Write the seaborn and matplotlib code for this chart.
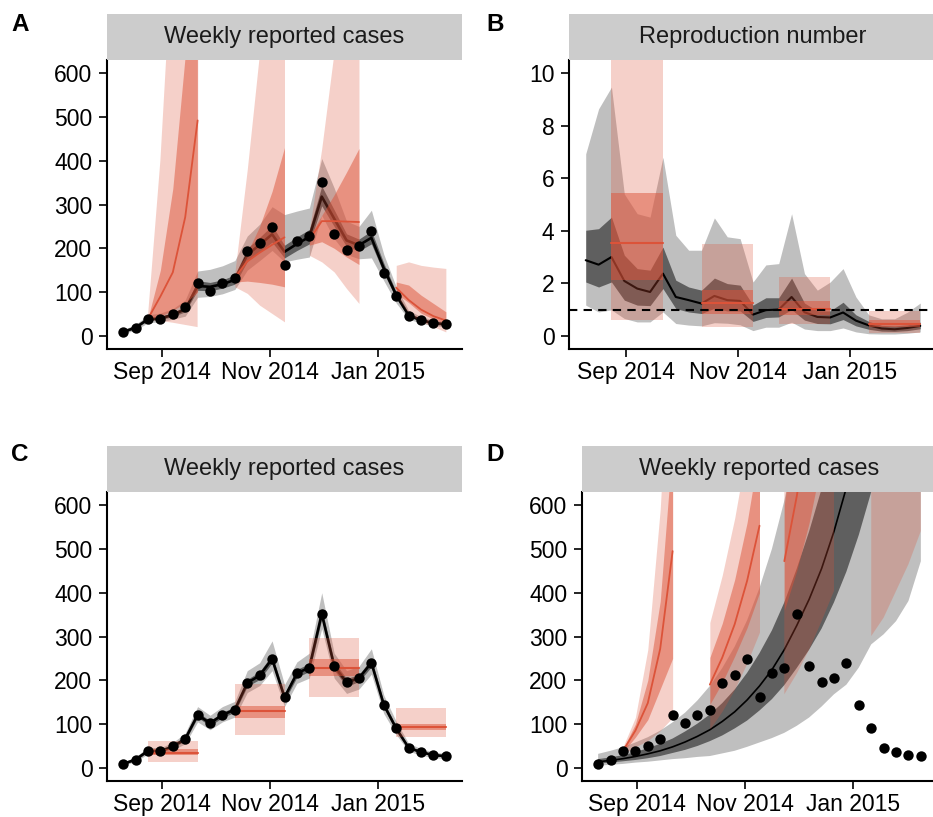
import numpy as np
import pandas as pd
import matplotlib
matplotlib.use("Agg")
import matplotlib.pyplot as plt
import matplotlib.dates as mdates
import matplotlib.ticker as mticker
from matplotlib.patches import Rectangle
import seaborn as sns

# ---------------- data ----------------
week_start = "2014-08-10"
n_weeks = 27
cases = [9, 19, 39, 38, 49, 66, 121, 102, 121, 133, 194, 211, 249, 161, 216, 229,
         352, 233, 195, 205, 240, 144, 90, 46, 36, 29, 27]

# forecast windows (week index, 0-based, inclusive)
win_start = [2, 9, 15, 22]
win_len = 5

# Panel A: fitted weekly cases (median, 50% and 95% bands)
A_fit = [9, 19, 38, 40, 48, 61, 114, 112, 118, 128, 185, 208, 232, 192, 210, 226,
         318, 268, 218, 207, 224, 154, 93, 47, 36, 29, 27]
A_lo50 = [7, 17, 35, 37, 44, 55, 104, 103, 109, 118, 170, 192, 214, 178, 195, 210,
          297, 250, 204, 194, 210, 143, 86, 43, 33, 26, 24]
A_hi50 = [11, 21, 41, 44, 53, 68, 126, 122, 128, 139, 200, 225, 252, 207, 226, 243,
          342, 288, 233, 221, 240, 166, 100, 52, 40, 32, 30]
A_lo95 = [5, 13, 30, 32, 38, 45, 88, 90, 96, 106, 150, 172, 195, 169, 175, 180,
          275, 222, 186, 176, 178, 126, 75, 38, 29, 23, 21]
A_hi95 = [14, 26, 48, 52, 62, 82, 148, 152, 160, 172, 228, 255, 295, 277, 285, 292,
          405, 338, 262, 250, 287, 186, 112, 58, 44, 36, 33]

# Panel A forecasts (one row per forecast window)
A_fc_med = [[39, 90, 145, 271, 492], [133, 170, 190, 208, 225],
            [219, 262, 262, 261, 260], [110, 82, 60, 45, 35]]
A_fc_lo50 = [[38, 45, 58, 75, 100], [123, 125, 122, 118, 112],
             [207, 215, 200, 180, 163], [97, 76, 52, 38, 28]]
A_fc_hi50 = [[40, 150, 336, 640, 1000], [142, 190, 250, 330, 430],
             [228, 275, 322, 374, 428], [123, 116, 93, 74, 55]]
A_fc_lo95 = [[36, 34, 30, 25, 20], [112, 97, 70, 51, 32],
             [184, 169, 146, 108, 74], [93, 51, 32, 21, 9]]
A_fc_hi95 = [[45, 400, 900, 1500, 2200], [145, 380, 650, 1000, 1300],
             [240, 428, 650, 900, 1200], [161, 169, 161, 157, 154]]

# Panel B: reproduction number
R_med = [2.88, 2.71, 3.0, 2.09, 1.8, 1.67, 2.37, 1.48, 1.36, 1.23, 1.52, 1.36, 1.33, 0.81,
         0.98, 1.0, 1.48, 0.9, 0.72, 0.7, 0.89, 0.58, 0.4, 0.28, 0.25, 0.3, 0.38]
R_lo50 = [2.05, 1.86, 2.05, 1.36, 1.17, 1.15, 1.8, 1.04, 0.91, 0.85, 1.05, 0.95, 0.95, 0.55,
          0.7, 0.72, 1.0, 0.6, 0.47, 0.46, 0.62, 0.38, 0.25, 0.18, 0.17, 0.2, 0.27]
R_hi50 = [4.02, 4.08, 4.52, 3.07, 2.56, 2.5, 3.38, 2.12, 1.86, 1.74, 2.2, 1.99, 1.93, 1.17,
          1.45, 1.45, 2.2, 1.25, 0.95, 0.95, 1.28, 0.8, 0.55, 0.4, 0.38, 0.42, 0.52]
R_lo95 = [1.17, 0.91, 0.99, 0.66, 0.53, 0.53, 0.91, 0.47, 0.41, 0.38, 0.5, 0.48, 0.42, 0.2,
          0.33, 0.33, 0.52, 0.26, 0.2, 0.2, 0.3, 0.15, 0.08, 0.07, 0.07, 0.1, 0.15]
R_hi95 = [6.93, 8.64, 9.47, 5.4, 4.65, 4.52, 6.8, 3.83, 3.26, 3.26, 4.49, 3.77, 3.7, 2.05,
          2.7, 2.75, 4.65, 2.37, 1.74, 2.05, 2.56, 1.48, 0.8, 0.65, 0.65, 0.9, 1.25]
R_box_med = [3.55, 1.26, 1.01, 0.44]
R_box_lo50 = [2.12, 0.85, 0.79, 0.32]
R_box_hi50 = [5.42, 1.74, 1.33, 0.60]
R_box_lo95 = [0.61, 0.34, 0.44, 0.11]
R_box_hi95 = [11.0, 3.49, 2.25, 0.95]

# Panel C: fit through data with constant forecasts
C_lo95 = [6, 14, 32, 31, 41, 55, 105, 87, 105, 116, 172, 188, 222, 140, 193, 205,
          318, 205, 170, 180, 214, 124, 76, 38, 29, 23, 21]
C_hi95 = [13, 25, 47, 46, 58, 79, 140, 120, 140, 152, 222, 240, 290, 190, 242, 262,
          400, 262, 222, 232, 272, 166, 106, 56, 44, 36, 33]
C_lo50 = [8, 17, 36, 35, 46, 62, 115, 96, 115, 127, 186, 202, 240, 153, 207, 220,
          340, 223, 186, 197, 231, 137, 85, 43, 34, 27, 25]
C_hi50 = [10, 21, 42, 41, 52, 70, 127, 108, 127, 139, 202, 220, 258, 169, 225, 238,
          364, 243, 204, 213, 249, 151, 95, 49, 38, 31, 29]
C_box_med = [35, 130, 227, 94]
C_box_lo50 = [29, 115, 210, 86]
C_box_hi50 = [43, 141, 248, 101]
C_box_lo95 = [13, 75, 162, 71]
C_box_hi95 = [62, 191, 297, 136]

# Panel D: exponential-growth model
D_fit = [14, 17, 21, 26, 32, 39, 48, 59, 72, 87, 106, 128, 155, 187, 224, 270,
         325, 385, 455, 540, 640, 760, 900, 1070, 1270, 1500, 1780]
D_lo50 = [10, 12, 15, 18, 22, 27, 34, 41, 50, 61, 74, 90, 108, 131, 157, 189,
          228, 270, 318, 378, 448, 532, 630, 750, 890, 1050, 1250]
D_hi50 = [20, 24, 29, 36, 45, 55, 67, 83, 101, 122, 148, 179, 217, 262, 314, 378,
          455, 540, 637, 756, 896, 1064, 1260, 1500, 1780, 2100, 2490]
D_lo95 = [5, 7, 9, 12, 14, 17, 20, 22, 25, 27, 33, 39, 48, 58, 68, 80,
          96, 115, 140, 168, 190, 229, 282, 305, 335, 381, 472]
D_hi95 = [32, 39, 47, 58, 70, 85, 104, 126, 154, 187, 228, 277, 337, 411, 500, 610,
          740, 900, 1100, 1340, 1630, 1980, 2400, 2900, 3500, 4200, 5000]
D_fc_med = [[39, 85, 148, 272, 495], [190, 252, 328, 427, 553],
            [472, 620, 800, 1030, 1320], [1100, 1300, 1500, 1800, 2100]]
D_fc_lo50 = [[36, 70, 110, 180, 250], [145, 195, 255, 320, 400],
             [360, 450, 560, 700, 850], [700, 800, 950, 1100, 1300]]
D_fc_hi50 = [[43, 100, 200, 380, 740], [252, 330, 430, 560, 730],
             [600, 820, 1100, 1450, 1900], [1600, 1900, 2300, 2700, 3200]]
D_fc_lo95 = [[32, 48, 62, 85, 115], [89, 130, 180, 240, 310],
             [168, 215, 270, 335, 404], [301, 343, 404, 465, 541]]
D_fc_hi95 = [[48, 115, 270, 590, 1100], [332, 440, 570, 730, 950],
             [1000, 1400, 1900, 2500, 3300], [3000, 3500, 4200, 5000, 6000]]

strip_titles = ["Weekly reported cases", "Reproduction number",
                "Weekly reported cases", "Weekly reported cases"]
panel_letters = ["A", "B", "C", "D"]
tick_dates = ["2014-09-01", "2014-11-01", "2015-01-01"]

# ---------------- style ----------------
sns.set_style("ticks")
plt.rcParams["font.family"] = ["Liberation Sans", "DejaVu Sans"]
plt.rcParams["axes.linewidth"] = 1.5

RED = "#DC5339"
GREY_A = 0.25
GREY_B = 0.5
RED_A = 0.27
RED_B = 0.5

dates = pd.date_range(week_start, periods=n_weeks, freq="7D")
W, H = 933, 817
fig = plt.figure(figsize=(W / 100, H / 100), dpi=100)


def make_axes(l, t, r, b):
    return fig.add_axes([l / W, 1 - b / H, (r - l) / W, (b - t) / H])


def strip(l, r, t, b, title):
    fig.patches.append(Rectangle((l / W, 1 - b / H), (r - l) / W, (b - t) / H,
                                 transform=fig.transFigure, facecolor="#CCCCCC",
                                 edgecolor="none", zorder=0))
    fig.text((l + r) / 2 / W, 1 - (t + b) / 2 / H, title, ha="center", va="center",
             fontsize=17, color="#1A1A1A")


def style_axes(ax, ylim, yticks):
    span = dates[-1] - dates[0]
    pad = span * 0.05
    ax.set_xlim(dates[0] - pad, dates[-1] + pad)
    ax.set_ylim(*ylim)
    ax.set_yticks(yticks)
    ax.xaxis.set_major_locator(
        mticker.FixedLocator(mdates.date2num(pd.to_datetime(tick_dates))))
    ax.xaxis.set_major_formatter(mdates.DateFormatter("%b %Y"))
    for s in ["top", "right"]:
        ax.spines[s].set_visible(False)
    ax.spines["left"].set_color("black")
    ax.spines["bottom"].set_color("black")
    ax.tick_params(axis="both", length=5.5, width=1.2, color="black",
                   labelsize=16.5, labelcolor="black")
    ax.tick_params(axis="y", pad=5)
    ax.tick_params(axis="x", pad=3)
    ax.set_xlabel("")
    ax.set_ylabel("")


def grey_bands(ax, lo95, hi95, lo50, hi50):
    ax.fill_between(dates, lo95, hi95, color="black", alpha=GREY_A, lw=0, zorder=1)
    ax.fill_between(dates, lo50, hi50, color="black", alpha=GREY_B, lw=0, zorder=1.1)


def red_windows(ax, med, lo50, hi50, lo95, hi95):
    for k, s in enumerate(win_start):
        d = dates[s:s + win_len]
        ax.fill_between(d, lo95[k], hi95[k], color=RED, alpha=RED_A, lw=0, zorder=3)
        ax.fill_between(d, lo50[k], hi50[k], color=RED, alpha=RED_B, lw=0, zorder=3.1)
        sns.lineplot(x=d, y=med[k], ax=ax, color=RED, lw=1.3, zorder=3.5)


def red_boxes(ax, med, lo50, hi50, lo95, hi95):
    for k, s in enumerate(win_start):
        d = [dates[s], dates[s + win_len - 1]]
        ax.fill_between(d, [lo95[k]] * 2, [hi95[k]] * 2, color=RED, alpha=RED_A, lw=0, zorder=3)
        ax.fill_between(d, [lo50[k]] * 2, [hi50[k]] * 2, color=RED, alpha=RED_B, lw=0, zorder=3.1)
        sns.lineplot(x=d, y=[med[k]] * 2, ax=ax, color=RED, lw=1.5, zorder=3.5)


def points(ax):
    sns.scatterplot(x=dates, y=cases, ax=ax, color="black", s=56, linewidth=0, zorder=5)


cases_ylim = (-30, 630)
cases_ticks = [0, 100, 200, 300, 400, 500, 600]

# ---- Panel A ----
axA = make_axes(107, 60, 462, 349)
grey_bands(axA, A_lo95, A_hi95, A_lo50, A_hi50)
sns.lineplot(x=dates, y=A_fit, ax=axA, color="black", lw=1.9, zorder=2)
red_windows(axA, A_fc_med, A_fc_lo50, A_fc_hi50, A_fc_lo95, A_fc_hi95)
points(axA)
style_axes(axA, cases_ylim, cases_ticks)

# ---- Panel B ----
axB = make_axes(569, 60, 937, 349)
grey_bands(axB, R_lo95, R_hi95, R_lo50, R_hi50)
sns.lineplot(x=dates, y=R_med, ax=axB, color="black", lw=1.5, zorder=2)
red_boxes(axB, R_box_med, R_box_lo50, R_box_hi50, R_box_lo95, R_box_hi95)
axB.axhline(1, color="black", lw=1.5, ls=(0, (4, 3)), zorder=6)
style_axes(axB, (-0.5, 10.5), [0, 2, 4, 6, 8, 10])

# ---- Panel C ----
axC = make_axes(107, 492, 462, 781)
grey_bands(axC, C_lo95, C_hi95, C_lo50, C_hi50)
sns.lineplot(x=dates, y=cases, ax=axC, color="black", lw=1.9, zorder=2)
red_boxes(axC, C_box_med, C_box_lo50, C_box_hi50, C_box_lo95, C_box_hi95)
points(axC)
style_axes(axC, cases_ylim, cases_ticks)

# ---- Panel D ----
axD = make_axes(582, 492, 937, 781)
grey_bands(axD, D_lo95, D_hi95, D_lo50, D_hi50)
sns.lineplot(x=dates, y=D_fit, ax=axD, color="black", lw=1.2, zorder=2)
red_windows(axD, D_fc_med, D_fc_lo50, D_fc_hi50, D_fc_lo95, D_fc_hi95)
points(axD)
style_axes(axD, cases_ylim, cases_ticks)

for ax in (axA, axB, axC, axD):
    leg = ax.get_legend()
    if leg is not None:
        leg.remove()

# strips and letters
strip(107, 462, 14, 60, strip_titles[0])
strip(569, 937, 14, 60, strip_titles[1])
strip(107, 462, 446, 492, strip_titles[2])
strip(582, 937, 446, 492, strip_titles[3])
for (x, y), letter in zip([(11, 13), (486, 13), (11, 443), (486, 443)], panel_letters):
    fig.text(x / W, 1 - y / H, letter, ha="left", va="top", fontsize=17.5,
             fontweight="bold", color="black")

fig.savefig("out.png", dpi=100, facecolor="white")
